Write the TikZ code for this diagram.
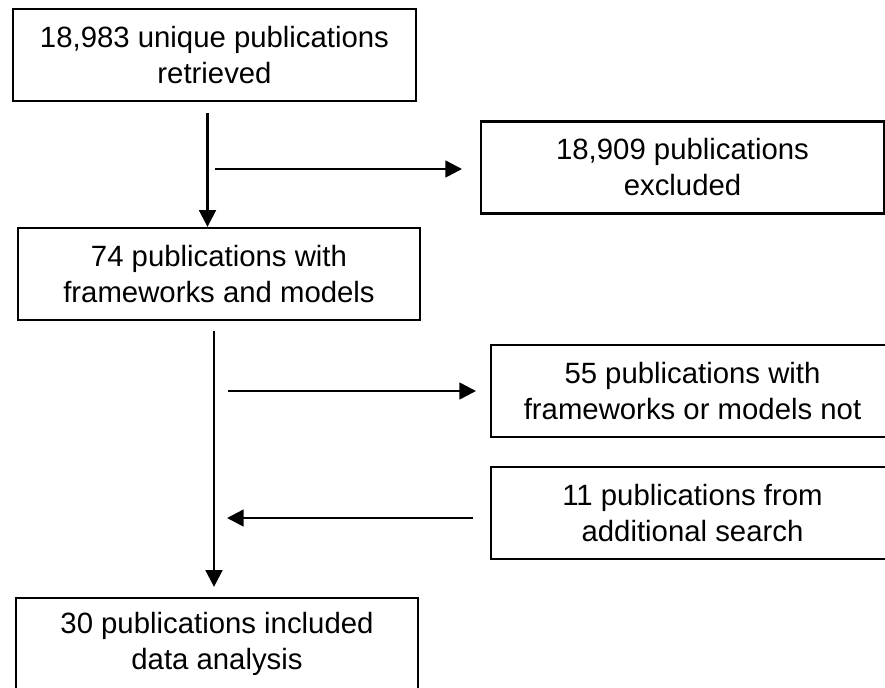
\documentclass[tikz,border=0pt]{standalone}
\usepackage{fontspec}
\setmainfont{Liberation Sans}
\usepackage{tikz}
\usetikzlibrary{positioning, arrows.meta, calc}

\begin{document}
\begin{tikzpicture}[x=0.75pt, y=-0.75pt,
    box/.style={draw, line width=1.7pt, minimum width=302pt, minimum height=69pt, inner sep=0pt, align=center, font=\fontsize{22}{27}\selectfont},
    arr/.style={line width=1.9pt, -{Triangle[length=12.5pt, width=12.5pt]}}]
    \clip (0,0) rectangle (885,687);
    \node (Retrieved) [box] at (214.5,55) {18,983 unique publications\\retrieved};
    \node (Screened) [box] at (219,274) {74 publications with\\frameworks and models};
    \node (Excluded) [box] at (682.5,167.5) {18,909 publications\\excluded};
    \node (NotMatch) [box] at (692.5,391) {55 publications with\\frameworks or models not};
    \node (Additional) [box] at (692.5,513) {11 publications from\\additional search};
    \node (Included) [box] at (217,644) {30 publications included\\data analysis};
    \coordinate (TopA) at ($(Retrieved.south)+(-7,11)$);
    \coordinate (OutA) at (215,169);
    \coordinate (TopB) at ($(Screened.south)+(-5,10)$);
    \coordinate (OutB) at (228,391);
    \coordinate (InB) at (227,518);
    \draw[arr] (TopA) -- (TopA |- Screened.north);
    \draw[arr, shorten >=13.5pt] (OutA) -- (OutA -| Excluded.west);
    \draw[arr, shorten >=7.5pt] (TopB) -- (TopB |- Included.north);
    \draw[arr, shorten >=10.5pt] (OutB) -- (OutB -| NotMatch.west);
    \draw[arr, shorten <=12.75pt] (InB -| Additional.west) -- (InB);
\end{tikzpicture}
\end{document}
